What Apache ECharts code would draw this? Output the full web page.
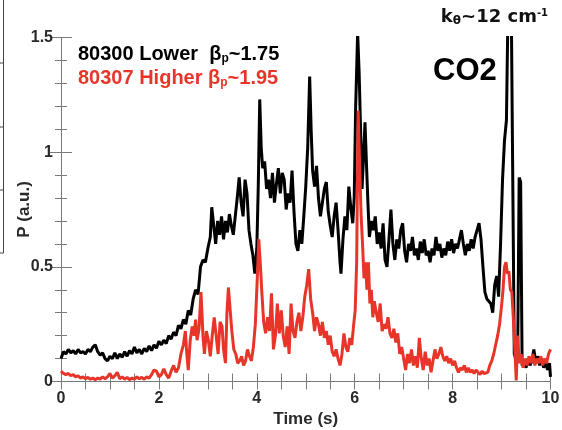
<!DOCTYPE html>
<html><head><meta charset="utf-8">
<script src="https://cdn.jsdelivr.net/npm/echarts@6/dist/echarts.min.js"></script>
<style>html,body{margin:0;padding:0;background:#fff}#c{width:562px;height:430px}</style>
</head><body><div id="c"></div>
<script>
// ---- data ----
const xTicks = [0, 2, 4, 6, 8, 10];
const yTicks = [0, 0.5, 1, 1.5];
const blackT = [0.00,0.05,0.10,0.15,0.20,0.25,0.30,0.35,0.40,0.45,0.50,0.55,0.60,0.65,0.70,0.75,0.80,0.85,0.90,0.95,1.00,1.05,1.10,1.15,1.20,1.25,1.30,1.35,1.40,1.45,1.50,1.55,1.60,1.65,1.70,1.75,1.80,1.85,1.90,1.95,2.00,2.05,2.10,2.15,2.20,2.25,2.30,2.35,2.40,2.45,2.50,2.55,2.60,2.65,2.70,2.75,2.80,2.85,2.90,2.95,3.00,3.05,3.08,3.12,3.16,3.20,3.24,3.28,3.32,3.36,3.40,3.44,3.48,3.52,3.56,3.60,3.64,3.68,3.72,3.76,3.80,3.84,3.88,3.92,3.96,4.00,4.03,4.06,4.09,4.12,4.16,4.20,4.24,4.28,4.32,4.36,4.40,4.44,4.48,4.52,4.56,4.60,4.64,4.68,4.72,4.76,4.80,4.84,4.88,4.92,4.96,5.00,5.04,5.08,5.11,5.14,5.18,5.22,5.26,5.30,5.34,5.38,5.42,5.46,5.50,5.54,5.58,5.62,5.66,5.70,5.72,5.76,5.80,5.84,5.88,5.92,5.96,5.99,6.02,6.06,6.09,6.12,6.15,6.18,6.21,6.24,6.27,6.30,6.34,6.38,6.42,6.46,6.50,6.54,6.58,6.62,6.66,6.70,6.74,6.78,6.82,6.86,6.90,6.94,6.98,7.02,7.06,7.10,7.14,7.18,7.22,7.26,7.30,7.34,7.38,7.42,7.46,7.50,7.54,7.58,7.62,7.66,7.70,7.74,7.78,7.82,7.86,7.90,7.94,7.98,8.02,8.06,8.10,8.14,8.18,8.22,8.26,8.30,8.34,8.38,8.42,8.46,8.50,8.54,8.58,8.62,8.66,8.70,8.74,8.78,8.82,8.86,8.90,8.94,8.98,9.02,9.06,9.10,9.13,9.16,9.20,9.24,9.26,9.29,9.33,9.36,9.39,9.42,9.46,9.50,9.54,9.58,9.62,9.66,9.70,9.74,9.78,9.82,9.86,9.90,9.94,9.98,10.00];
const blackV = [0.10,0.13,0.12,0.14,0.125,0.135,0.12,0.14,0.125,0.13,0.12,0.14,0.13,0.15,0.16,0.13,0.115,0.125,0.10,0.09,0.11,0.10,0.125,0.10,0.12,0.105,0.13,0.11,0.135,0.12,0.15,0.125,0.14,0.12,0.145,0.13,0.155,0.135,0.16,0.145,0.175,0.16,0.18,0.165,0.20,0.185,0.215,0.20,0.245,0.23,0.27,0.25,0.31,0.29,0.36,0.40,0.38,0.50,0.53,0.52,0.58,0.63,0.76,0.68,0.60,0.70,0.64,0.72,0.62,0.70,0.65,0.73,0.68,0.64,0.72,0.80,0.89,0.78,0.72,0.88,0.82,0.66,0.60,0.55,0.47,0.58,0.85,1.23,1.02,0.93,0.96,0.84,0.88,0.80,0.91,0.78,0.86,0.93,0.82,0.91,0.88,0.75,0.82,0.78,0.92,0.74,0.60,0.57,0.66,0.60,0.72,0.85,1.02,1.33,1.10,0.92,0.85,0.94,0.80,0.72,0.78,0.84,0.87,0.74,0.68,0.63,0.72,0.78,0.66,0.52,0.47,0.62,0.72,0.66,0.85,0.76,0.69,0.80,1.20,1.52,1.35,1.10,0.84,0.98,1.13,0.95,0.78,0.63,0.70,0.66,0.72,0.60,0.65,0.58,0.69,0.53,0.50,0.62,0.75,0.60,0.53,0.62,0.58,0.66,0.69,0.57,0.52,0.60,0.57,0.63,0.55,0.58,0.53,0.61,0.56,0.62,0.55,0.57,0.52,0.58,0.55,0.63,0.57,0.60,0.54,0.58,0.55,0.61,0.57,0.62,0.56,0.60,0.58,0.62,0.66,0.60,0.55,0.60,0.57,0.62,0.58,0.63,0.66,0.69,0.62,0.50,0.39,0.36,0.35,0.34,0.30,0.42,0.46,0.37,0.60,0.88,1.05,1.14,1.60,1.60,1.60,1.60,0.12,0.10,0.13,0.89,0.87,0.07,0.08,0.06,0.10,0.07,0.09,0.14,0.08,0.11,0.07,0.10,0.06,0.09,0.05,0.08,0.02];
const redT = [0.00,0.05,0.10,0.15,0.20,0.25,0.30,0.35,0.40,0.45,0.50,0.55,0.60,0.65,0.70,0.75,0.80,0.85,0.90,0.95,1.00,1.05,1.10,1.15,1.20,1.25,1.30,1.35,1.40,1.45,1.50,1.55,1.60,1.65,1.70,1.75,1.80,1.85,1.90,1.95,2.00,2.05,2.10,2.15,2.20,2.25,2.30,2.35,2.40,2.45,2.50,2.54,2.57,2.60,2.64,2.68,2.72,2.75,2.78,2.82,2.86,2.90,2.93,2.97,3.01,3.05,3.09,3.13,3.17,3.21,3.25,3.29,3.32,3.36,3.39,3.42,3.46,3.49,3.53,3.57,3.61,3.65,3.69,3.73,3.77,3.81,3.85,3.89,3.93,3.97,4.01,4.04,4.07,4.10,4.14,4.18,4.22,4.26,4.30,4.34,4.38,4.42,4.46,4.50,4.54,4.58,4.62,4.66,4.70,4.74,4.78,4.82,4.86,4.90,4.94,4.98,5.02,5.06,5.10,5.14,5.18,5.22,5.26,5.30,5.34,5.38,5.42,5.46,5.50,5.54,5.58,5.62,5.66,5.70,5.74,5.78,5.82,5.86,5.90,5.94,5.98,6.01,6.04,6.07,6.10,6.13,6.16,6.19,6.22,6.25,6.28,6.31,6.34,6.37,6.40,6.44,6.48,6.52,6.56,6.60,6.64,6.68,6.72,6.76,6.80,6.84,6.88,6.92,6.96,7.00,7.04,7.08,7.12,7.16,7.20,7.24,7.28,7.32,7.36,7.40,7.44,7.48,7.52,7.56,7.60,7.64,7.68,7.72,7.76,7.80,7.84,7.88,7.92,7.96,8.00,8.04,8.08,8.12,8.16,8.20,8.24,8.28,8.32,8.36,8.40,8.44,8.48,8.52,8.56,8.60,8.64,8.68,8.72,8.76,8.80,8.84,8.88,8.92,8.96,9.00,9.03,9.06,9.09,9.12,9.15,9.18,9.21,9.24,9.27,9.30,9.33,9.36,9.40,9.44,9.48,9.52,9.56,9.60,9.64,9.68,9.72,9.76,9.80,9.84,9.88,9.92,9.96,10.00];
const redV = [0.045,0.035,0.03,0.035,0.025,0.03,0.02,0.025,0.015,0.02,0.012,0.018,0.01,0.015,0.008,0.015,0.01,0.02,0.012,0.02,0.035,0.015,0.025,0.04,0.012,0.02,0.01,0.018,0.008,0.015,0.01,0.02,0.012,0.018,0.01,0.02,0.015,0.03,0.05,0.045,0.02,0.03,0.055,0.03,0.015,0.045,0.07,0.04,0.06,0.12,0.16,0.22,0.12,0.05,0.18,0.24,0.20,0.27,0.18,0.23,0.39,0.20,0.12,0.22,0.18,0.11,0.20,0.28,0.20,0.12,0.26,0.24,0.14,0.08,0.30,0.41,0.30,0.22,0.14,0.12,0.08,0.09,0.11,0.07,0.09,0.14,0.11,0.09,0.15,0.25,0.45,0.62,0.52,0.40,0.26,0.21,0.28,0.22,0.385,0.14,0.20,0.34,0.21,0.31,0.20,0.15,0.24,0.12,0.34,0.22,0.19,0.26,0.30,0.22,0.28,0.37,0.42,0.49,0.36,0.30,0.22,0.28,0.25,0.20,0.26,0.19,0.22,0.16,0.20,0.13,0.11,0.14,0.10,0.07,0.12,0.21,0.15,0.13,0.19,0.16,0.25,0.31,0.52,1.18,0.95,0.73,0.60,0.45,0.52,0.40,0.52,0.34,0.40,0.28,0.35,0.30,0.26,0.34,0.22,0.25,0.23,0.28,0.21,0.19,0.23,0.17,0.21,0.12,0.15,0.10,0.05,0.12,0.08,0.14,0.07,0.11,0.06,0.19,0.10,0.05,0.13,0.07,0.10,0.04,0.09,0.14,0.10,0.12,0.15,0.11,0.09,0.11,0.08,0.10,0.07,0.09,0.06,0.04,0.06,0.05,0.07,0.04,0.06,0.04,0.05,0.035,0.05,0.04,0.03,0.045,0.035,0.03,0.04,0.07,0.09,0.12,0.16,0.20,0.25,0.33,0.40,0.50,0.52,0.47,0.48,0.40,0.39,0.28,0.15,0.005,0.20,0.08,0.12,0.06,0.10,0.07,0.11,0.08,0.12,0.07,0.10,0.08,0.11,0.07,0.10,0.08,0.12,0.14];

const zip = (t, v) => t.map((x, i) => [x, v[i]]);
const chart = echarts.init(document.getElementById('c'));
const FF = '"Liberation Sans", Arial, sans-serif';
const frame = '#7a7a7a';
const baseX = {
  type: 'value', min: 0, max: 10, interval: 2,
  axisLine: { show: true, lineStyle: { color: frame, width: 1 } },
  axisTick: { show: true, inside: true, length: 8, lineStyle: { color: frame } },
  minorTick: { show: true, splitNumber: 4, length: 8, lineStyle: { color: frame } },
  splitLine: { show: false }, minorSplitLine: { show: false }
};
const baseY = {
  type: 'value', min: 0, max: 1.5, interval: 0.5,
  axisLine: { show: true, lineStyle: { color: frame, width: 1 } },
  axisTick: { show: true, inside: true, length: 11, lineStyle: { color: frame } },
  minorTick: { show: true, splitNumber: 5, length: 6, lineStyle: { color: frame } },
  splitLine: { show: false }, minorSplitLine: { show: false }
};
chart.setOption({
  animation: false,
  grid: { left: 61, right: 11.5, top: 37.5, bottom: 48.5, containLabel: false, outerBoundsMode: 'none' },
  xAxis: [
    Object.assign({}, baseX, {
      position: 'bottom',
      axisLabel: { color: '#2a2a2a', fontSize: 16, fontWeight: 'bold', fontFamily: FF, margin: 9,
        formatter: v => xTicks.includes(v) ? String(v) : '' },
      name: 'Time (s)', nameLocation: 'middle', nameGap: 29, nameMoveOverlap: false,
      nameTextStyle: { color: '#2a2a2a', fontSize: 17, fontWeight: 'bold', fontFamily: FF, verticalAlign: 'top' }
    }),
    Object.assign({}, baseX, { position: 'top', axisLabel: { show: false } })
  ],
  yAxis: [
    Object.assign({}, baseY, {
      position: 'left',
      axisLabel: { color: '#2a2a2a', fontSize: 16, fontWeight: 'bold', fontFamily: FF, margin: 8,
        formatter: v => yTicks.includes(v) ? String(v) : '' },
      name: 'P (a.u.)', nameLocation: 'middle', nameGap: 28, nameMoveOverlap: false,
      nameTextStyle: { color: '#2a2a2a', fontSize: 17, fontWeight: 'bold', fontFamily: FF }
    }),
    Object.assign({}, baseY, { position: 'right', axisLabel: { show: false } })
  ],
  series: [
    { type: 'line', name: '80300', data: zip(blackT, blackV), showSymbol: false, symbol: 'none',
      lineStyle: { color: '#000', width: 3 }, clip: true, z: 2 },
    { type: 'line', name: '80307', data: zip(redT, redV), showSymbol: false, symbol: 'none',
      lineStyle: { color: '#e8352a', width: 3 }, clip: true, z: 3 }
  ],
  graphic: [
    { type: 'text', left: 78, top: 44, style: {
      text: '{a|80300 Lower  β}{s|p}{a|~1.75}', fill: '#000',
      rich: { a: { fontSize: 20, fontWeight: 'bold', fontFamily: FF, fill: '#000', lineHeight: 23 },
              s: { fontSize: 12, fontWeight: 'bold', fontFamily: FF, fill: '#000', lineHeight: 23, padding: [9, 0, 0, 0] } } } },
    { type: 'text', left: 78, top: 68, style: {
      text: '{a|80307 Higher β}{s|p}{a|~1.95}', fill: '#e8352a',
      rich: { a: { fontSize: 20, fontWeight: 'bold', fontFamily: FF, fill: '#e8352a', lineHeight: 23 },
              s: { fontSize: 12, fontWeight: 'bold', fontFamily: FF, fill: '#e8352a', lineHeight: 23, padding: [9, 0, 0, 0] } } } },
    { type: 'text', right: 14, top: 8, style: {
      text: '{a|k}{s|θ}{a|~12 cm}{u|-1}', fill: '#111',
      rich: { a: { fontSize: 18, fontWeight: 'bold', fontFamily: '"DejaVu Sans", sans-serif', fill: '#111', lineHeight: 21 },
              s: { fontSize: 12, fontWeight: 'bold', fontFamily: '"DejaVu Sans", sans-serif', fill: '#111', lineHeight: 21, padding: [7, 0, 0, 0] },
              u: { fontSize: 10, fontWeight: 'bold', fontFamily: '"DejaVu Sans", sans-serif', fill: '#111', lineHeight: 21, padding: [0, 0, 8, 0] } } } },
    { type: 'text', left: 433, top: 56, style: { text: 'CO2', fill: '#000', fontSize: 31, fontWeight: 'bold', fontFamily: FF } },
    // fragment of the neighbouring panel at the left edge
    { type: 'line', shape: { x1: 3.5, y1: 0, x2: 3.5, y2: 253 }, style: { stroke: '#444', lineWidth: 1 } },
    { type: 'line', shape: { x1: 0, y1: 253, x2: 3.5, y2: 253 }, style: { stroke: '#444', lineWidth: 1 } },
    { type: 'line', shape: { x1: 0, y1: 63, x2: 3.5, y2: 63 }, style: { stroke: '#444', lineWidth: 1 } },
    { type: 'line', shape: { x1: 0, y1: 127, x2: 3.5, y2: 127 }, style: { stroke: '#444', lineWidth: 1 } },
    { type: 'line', shape: { x1: 0, y1: 190, x2: 3.5, y2: 190 }, style: { stroke: '#444', lineWidth: 1 } }
  ]
});
</script></body></html>
